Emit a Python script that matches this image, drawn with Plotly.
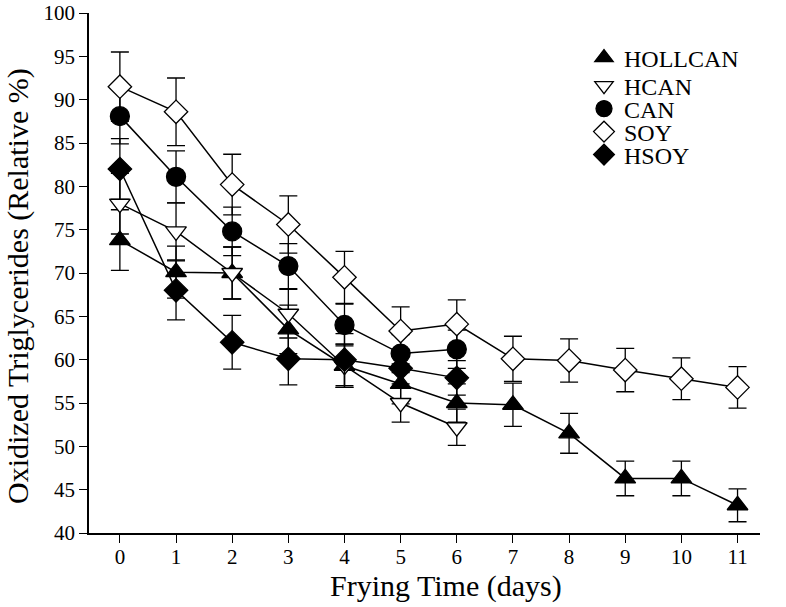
import plotly.graph_objects as go

days = list(range(12))

hollcan = [73.8, 70.1, 70.0, 63.5, 59.3, 57.2, 55.0, 54.8, 51.5, 46.3, 46.3, 43.2]
hollcan_err = [3.5, 3.0, 3.0, 2.8, 2.5, 2.3, 2.2, 2.5, 2.3, 2.0, 2.0, 1.9]

hcan = [78.0, 74.8, 70.0, 65.3, 59.3, 55.0, 52.2]
hcan_err = [3.5, 3.3, 3.0, 2.8, 2.5, 2.2, 2.1]

can = [88.1, 81.1, 74.8, 70.8, 64.0, 60.7, 61.2]
can_err = [3.2, 3.0, 2.8, 2.6, 2.4, 2.2, 2.2]

soy = [91.5, 88.6, 80.2, 75.6, 69.5, 63.3, 64.1, 60.1, 59.9, 58.8, 57.8, 56.8]
soy_err = [4.0, 3.9, 3.5, 3.3, 3.0, 2.8, 2.8, 2.6, 2.5, 2.5, 2.4, 2.4]

hsoy = [82.0, 68.0, 62.0, 60.1, 60.0, 59.0, 57.9]
hsoy_err = [3.5, 3.4, 3.1, 3.0, 3.0, 2.2, 2.0]

series = [
    ("HOLLCAN", hollcan, hollcan_err, "triangle-up", "black", 18),
    ("HCAN", hcan, hcan_err, "triangle-down", "white", 18),
    ("CAN", can, can_err, "circle", "black", 19),
    ("SOY", soy, soy_err, "diamond", "white", 18),
    ("HSOY", hsoy, hsoy_err, "diamond", "black", 18),
]

FONT = "Liberation Serif, Times New Roman, serif"

W, H = 786, 607
PX0, PX1, PY0, PY1 = 89, 760, 13, 533
L, R, T, B = PX0, W - PX1, PY0, H - PY1
pw, ph = W - L - R, H - T - B


def px_to_paper_x(xp):
    return (xp - PX0) / pw


def px_to_paper_y(yp):
    return (PY1 - yp) / ph


fig = go.Figure()
for name, vals, err, sym, fill, size in series:
    fig.add_trace(go.Scatter(
        x=days[:len(vals)], y=vals, mode="lines+markers", name=name,
        showlegend=False,
        line=dict(color="black", width=1.5),
        marker=dict(symbol=sym, size=size, color=fill, line=dict(color="black", width=1.3)),
        error_y=dict(type="data", array=err, visible=True, color="black", thickness=1.3, width=9),
    ))

legend_rows = [58, 86, 109, 132, 155]
legend_names = ["legend", "legend2", "legend3", "legend4", "legend5"]
legend_layout = {}
for (name, vals, err, sym, fill, size), ypx, lg in zip(series, legend_rows, legend_names):
    fig.add_trace(go.Scatter(
        x=[None], y=[None], mode="markers", name=name, showlegend=True, legend=lg,
        marker=dict(symbol=sym, size=size, color=fill, line=dict(color="black", width=1.3)),
    ))
    legend_layout[lg] = dict(
        x=px_to_paper_x(584), y=px_to_paper_y(ypx), xanchor="left", yanchor="middle",
        bgcolor="rgba(0,0,0,0)", font=dict(family=FONT, size=24, color="black"),
        itemsizing="trace",
    )

fig.update_layout(
    width=W, height=H,
    margin=dict(l=L, r=R, t=T, b=B),
    paper_bgcolor="white", plot_bgcolor="white",
    font=dict(family=FONT, size=21, color="black"),
    showlegend=True,
    xaxis=dict(range=[-0.55, 11.4], tickmode="array", tickvals=days,
               ticks="outside", ticklen=8, tickwidth=1.3, tickcolor="black",
               showline=True, linecolor="black", linewidth=1.5,
               showgrid=False, zeroline=False, automargin=False,
               ticklabelstandoff=-4, ticklabeloverflow="allow"),
    yaxis=dict(range=[40, 100], tickmode="linear", tick0=40, dtick=5,
               ticks="outside", ticklen=8, tickwidth=1.3, tickcolor="black",
               showline=True, linecolor="black", linewidth=1.5,
               showgrid=False, zeroline=False, automargin=False,
               ticklabeloverflow="allow"),
    annotations=[
        dict(text="Frying Time (days)", xref="paper", yref="paper",
             x=px_to_paper_x(446), y=px_to_paper_y(586), xanchor="center", yanchor="middle",
             showarrow=False, font=dict(family=FONT, size=30, color="black")),
        dict(text="Oxidized Triglycerides (Relative %)", xref="paper", yref="paper",
             x=px_to_paper_x(18), y=px_to_paper_y(286), xanchor="center", yanchor="middle",
             textangle=-90, showarrow=False, font=dict(family=FONT, size=30, color="black")),
    ],
    **legend_layout,
)

fig.write_html("out.html", config={"displayModeBar": False},
               post_script="document.body.style.margin='0px';document.body.style.padding='0px';")
